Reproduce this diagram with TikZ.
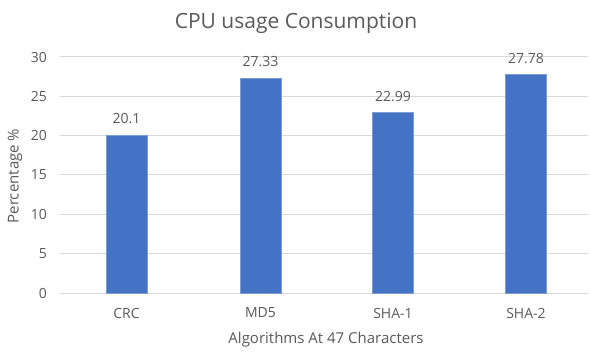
\documentclass[tikz,border=0pt]{standalone}
\usepackage{fontspec}
\setmainfont{Open Sans}
\definecolor{barblue}{HTML}{4472C4}
\definecolor{gridgray}{HTML}{D9D9D9}
\definecolor{textgray}{HTML}{595959}
\begin{document}
\begin{tikzpicture}[x=1pt,y=-1pt,
  every node/.style={text=textgray,inner sep=0pt},
  tick/.style={font=\fontsize{14}{16}\selectfont},
  vallabel/.style={font=\fontsize{14}{16}\selectfont},
  axtitle/.style={font=\fontsize{15}{18}\selectfont},
  bar/.style={fill=barblue,draw=barblue!70!white,line width=0.6pt},
  grid line/.style={draw=gridgray,line width=1pt}]
\useasboundingbox (0,0) rectangle (590,354);
% value v maps to y = 293 - 7.867 v
\def\yv#1{293-7.867*#1}
% horizontal grid lines and tick labels
\foreach \v in {0,5,...,30}{
  \draw[grid line] (60,{\yv{\v}}) -- (588,{\yv{\v}});
  \node[tick,anchor=east] (tick\v) at (47,{\yv{\v}}) {\v};
}
% bars with value labels and category labels
\foreach \c/\name/\val [count=\i] in {126.5/CRC/20.1, 260.5/MD5/27.33, 393/SHA-1/22.99, 526/SHA-2/27.78}{
  \fill[bar] (\c-20.5,{\yv{\val}}) rectangle (\c+20.5,293);
  \node[vallabel] (val\i) at (\c,{\yv{\val}-16}) {\val};
  \node[tick] (cat\i) at (\c,313) {\name};
}
\node[font=\fontsize{21}{25}\selectfont] (title) at (296,23) {CPU usage Consumption};
\node[axtitle] (xtitle) at (326,340) {Algorithms At 47 Characters};
\node[axtitle,rotate=90] (ytitle) at (15,176) {Percentage \%};
\end{tikzpicture}
\end{document}
